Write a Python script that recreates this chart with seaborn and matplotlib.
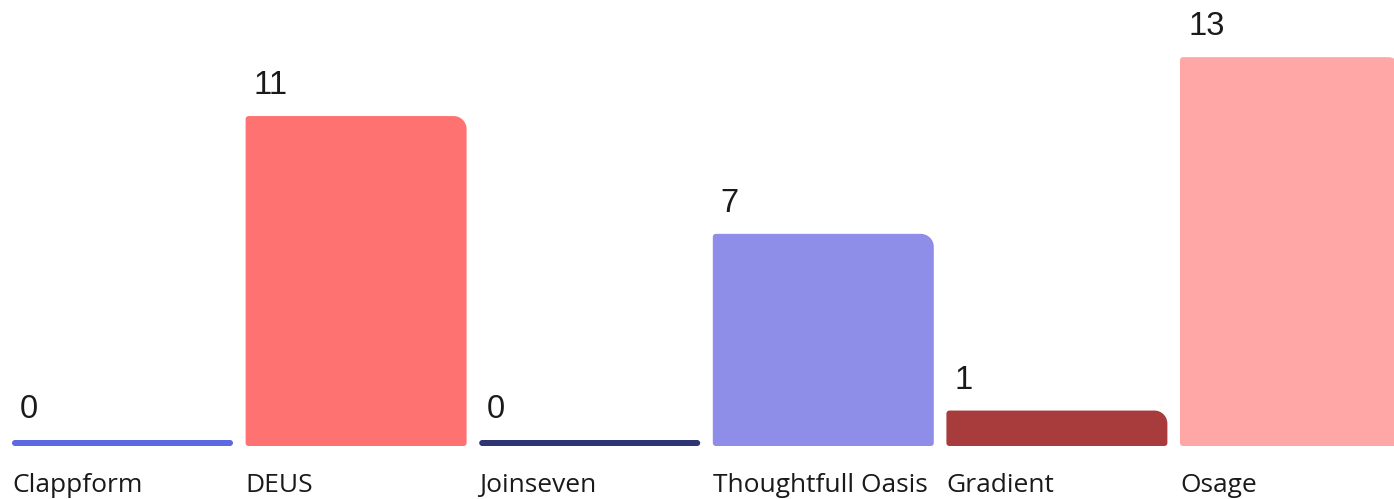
import numpy as np
import pandas as pd
import matplotlib
matplotlib.use("Agg")
import matplotlib.pyplot as plt
import seaborn as sns
from matplotlib.path import Path
from matplotlib.patches import PathPatch
from matplotlib.transforms import blended_transform_factory

categories = ["Clappform", "DEUS", "Joinseven", "Thoughtfull Oasis", "Gradient", "Osage"]
values = [0, 11, 0, 7, 1, 13]
colors = ["#5B6AE0", "#FF7272", "#2E3575", "#8E8EE8", "#A83C3C", "#FFA6A6"]

sns.set_theme(style="white")
plt.rcParams['font.family'] = ['Liberation Sans', 'DejaVu Sans']

W, H = 1394, 499
fig = plt.figure(figsize=(W / 100, H / 100), dpi=100)
ax = fig.add_axes([0, 0, 1, 1])

df = pd.DataFrame({"cat": categories, "val": values})
sns.barplot(data=df, x="cat", y="val", hue="cat", palette=colors, legend=False,
            width=0.946, ax=ax, saturation=1)

pitch = 233.6
xmin = -122.5 / pitch
xmax = xmin + W / pitch
ppu = 29.45
zero_y = 440
ymin = -(H - zero_y) / ppu
ymax = zero_y / ppu
ax.set_xlim(xmin, xmax)
ax.set_ylim(ymin, ymax)
ax.axis("off")

ux = 1 / pitch   # data units per px (x)
uy = 1 / ppu     # data units per px (y)
base = 6 * uy

def rounded_path(x0, y0, w, h, r_tr, r_o):
    hp = h / uy
    r_tr = min(r_tr, hp / 2)
    r_o = min(r_o, hp / 2)
    k = 0.5523
    x1, y1 = x0 + w, y0 + h
    verts, codes = [], []
    rx, ry = r_o * ux, r_o * uy
    verts += [(x0 + rx, y0)]; codes += [Path.MOVETO]
    verts += [(x1 - rx, y0)]; codes += [Path.LINETO]
    verts += [(x1 - rx + k * rx, y0), (x1, y0 + ry - k * ry), (x1, y0 + ry)]; codes += [Path.CURVE4] * 3
    tx, ty = r_tr * ux, r_tr * uy
    verts += [(x1, y1 - ty)]; codes += [Path.LINETO]
    verts += [(x1, y1 - ty + k * ty), (x1 - tx + k * tx, y1), (x1 - tx, y1)]; codes += [Path.CURVE4] * 3
    verts += [(x0 + rx, y1)]; codes += [Path.LINETO]
    verts += [(x0 + rx - k * rx, y1), (x0, y1 - ry + k * ry), (x0, y1 - ry)]; codes += [Path.CURVE4] * 3
    verts += [(x0, y0 + ry)]; codes += [Path.LINETO]
    verts += [(x0, y0 + ry - k * ry), (x0 + rx - k * rx, y0), (x0 + rx, y0)]; codes += [Path.CURVE4] * 3
    verts += [(x0 + rx, y0)]; codes += [Path.CLOSEPOLY]
    return Path(verts, codes)

patches = list(ax.patches)
lab_tr = blended_transform_factory(ax.transData, ax.transAxes)
for p, cat, v in zip(patches, categories, values):
    x0 = p.get_x(); w = p.get_width(); h = p.get_height()
    fc = p.get_facecolor()
    p.remove()
    path = rounded_path(x0, -base, w, h + base, 13, 3)
    ax.add_patch(PathPatch(path, facecolor=fc, edgecolor="none"))
    ax.text(x0 + 8 * ux, h + 22 * uy, f"{v}", ha="left", va="baseline",
            fontsize=23.5, color="#1a1a1a")
    ax.text(x0, (H - 492) / H, cat, transform=lab_tr, ha="left", va="baseline",
            fontsize=19, color="#1a1a1a", family=["Open Sans", "DejaVu Sans"])

fig.savefig("out.png", dpi=100, facecolor="white")
